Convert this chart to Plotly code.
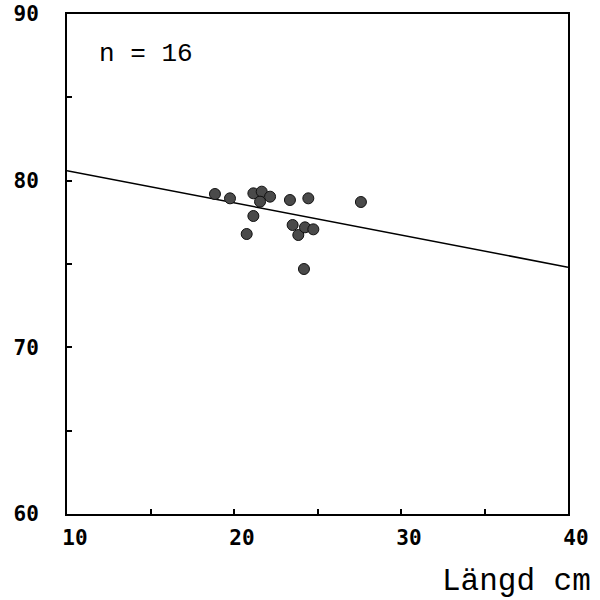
import plotly.graph_objects as go

# Length (cm) and measured value per individual
length_cm = [18.86, 19.76, 21.16, 21.66, 22.16, 21.56, 23.35, 24.45,
             27.6, 21.16, 20.76, 23.51, 23.85, 24.25, 24.75, 24.19]
value = [79.2, 78.94, 79.24, 79.34, 79.04, 78.74, 78.84, 78.94,
         78.72, 77.88, 76.8, 77.34, 76.74, 77.2, 77.08, 74.7]

# Fitted regression line: value = intercept + slope * length
intercept = 82.53
slope = -0.193
line_x = [10, 40]
line_y = [intercept + slope * x for x in line_x]

x_ticks = [10, 15, 20, 25, 30, 35, 40]
x_labels = ["10", "", "20", "", "30", "", "40"]
y_ticks = [60, 65, 70, 75, 80, 85, 90]
y_labels = ["60", "", "70", "", "80", "", "90"]

tick_font = dict(family="DejaVu Sans Mono", size=21, color="black", weight="bold")
mono = "Liberation Mono"

fig = go.Figure()
fig.add_trace(go.Scatter(
    x=line_x, y=line_y, mode="lines",
    line=dict(color="black", width=1.5), hoverinfo="skip",
))
fig.add_trace(go.Scatter(
    x=length_cm, y=value, mode="markers",
    marker=dict(size=11, color="#4a4a4a", line=dict(color="#111", width=1)),
))

fig.add_annotation(
    x=0.06, y=0.92, xref="paper", yref="paper", xanchor="left", yanchor="middle",
    text="n = 16", showarrow=False, font=dict(family=mono, size=26, color="black"),
)
fig.add_annotation(
    x=1.05, y=-0.134, xref="paper", yref="paper", xanchor="right", yanchor="middle",
    text="Längd cm", showarrow=False, font=dict(family=mono, size=31, color="black"),
)

axis_common = dict(
    showgrid=False, zeroline=False, showline=True, linecolor="black", linewidth=2,
    mirror=True, ticks="inside", ticklen=5, tickcolor="black", tickwidth=1.5,
    tickfont=tick_font, tickmode="array", automargin=False,
)
fig.update_xaxes(range=[10, 40], tickvals=x_ticks, ticktext=x_labels,
                 ticklabelstandoff=4, ticklabelshift=8, **axis_common)
fig.update_yaxes(range=[60, 90], tickvals=y_ticks, ticktext=y_labels,
                 ticklabelstandoff=22, **axis_common)

fig.update_layout(
    width=600, height=600, showlegend=False,
    margin=dict(l=67, r=32, t=14, b=86),
    plot_bgcolor="white", paper_bgcolor="white",
)

fig.write_html("out.html")
